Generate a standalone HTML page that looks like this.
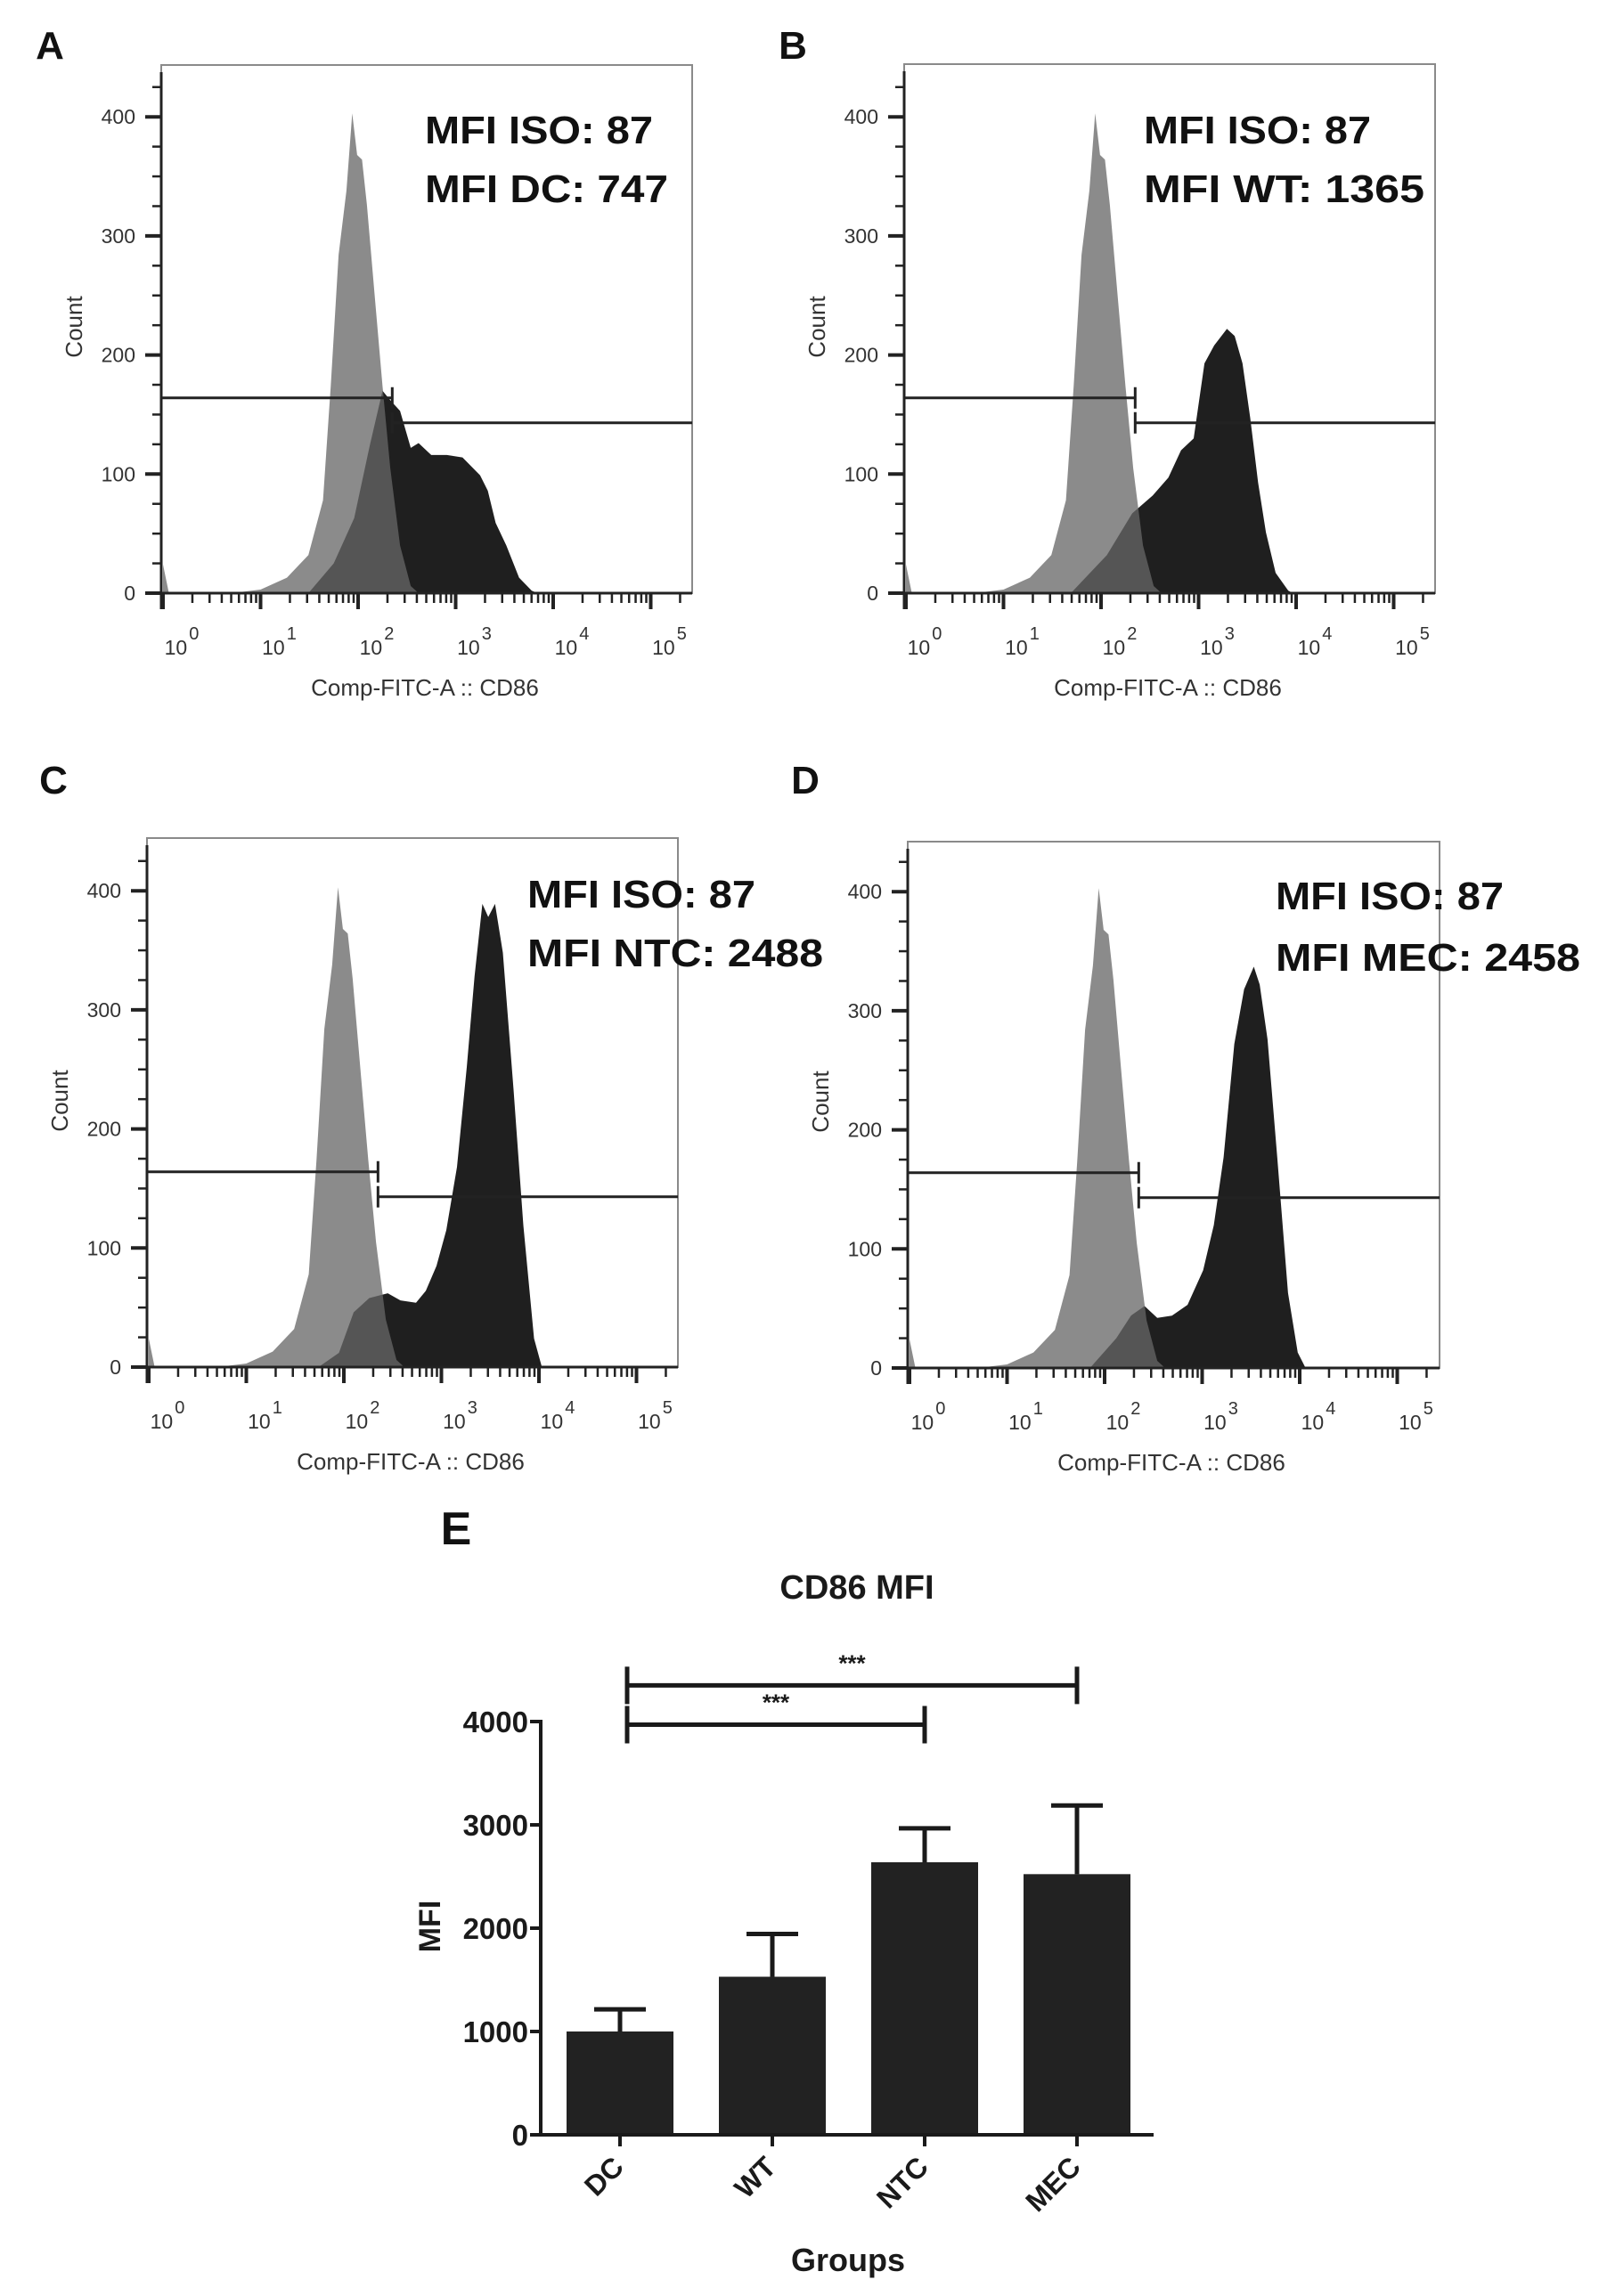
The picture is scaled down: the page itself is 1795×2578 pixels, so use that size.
<!DOCTYPE html>
<html><head><meta charset="utf-8">
<style>
html,body{margin:0;padding:0;background:#fff;}
svg{display:block;}
text{font-family:"Liberation Sans",Arial,sans-serif;}
</style></head>
<body>
<svg id="fig" xmlns="http://www.w3.org/2000/svg" width="1795" height="2578" viewBox="0 0 1795 2578">
<rect x="0" y="0" width="1795" height="2578" fill="#fff"/>
</svg>
<script>
// ---------- Histogram data (x = log10 decade position, y = count) ----------
const isoCurve = [[0,24],[0.06,0],[0.7,0],[1.0,3],[1.27,13],[1.49,32],[1.64,78],[1.72,174],[1.80,284],[1.88,338],[1.94,403],[1.99,368],[2.04,364],[2.09,326],[2.17,250],[2.25,174],[2.33,105],[2.43,40],[2.54,6],[2.62,0]];
const dcCurve = [[1.49,0],[1.75,25],[1.96,63],[2.12,124],[2.25,170],[2.33,162],[2.43,153],[2.54,122],[2.62,126],[2.75,116],[2.91,116],[3.07,114],[3.25,99],[3.33,86],[3.41,59],[3.52,40],[3.65,13],[3.78,2],[3.84,0]];
const wtCurve = [[1.69,0],[2.06,32],[2.32,67],[2.53,82],[2.69,97],[2.82,120],[2.95,130],[3.06,193],[3.16,208],[3.29,222],[3.37,216],[3.45,193],[3.53,147],[3.61,93],[3.69,51],[3.79,17],[3.92,2],[3.97,0]];
const ntcCurve = [[1.74,0],[1.95,12],[2.1,46],[2.26,58],[2.45,62],[2.58,56],[2.74,54],[2.84,64],[2.95,85],[3.05,115],[3.16,168],[3.26,252],[3.34,328],[3.42,389],[3.48,378],[3.55,389],[3.63,348],[3.74,233],[3.84,119],[3.95,24],[4.03,0]];
const mecCurve = [[1.85,0],[2.12,25],[2.27,44],[2.41,52],[2.54,42],[2.69,44],[2.85,53],[3.01,82],[3.12,120],[3.22,177],[3.33,272],[3.43,318],[3.53,337],[3.59,322],[3.67,276],[3.77,177],[3.88,63],[3.98,13],[4.06,0]];
const countTicks = [0,100,200,300,400];
const decadeLabels = ["0","1","2","3","4","5"];
const gateLeftCount = 164;
const gateRightCount = 143;
const mfiIso = ["MFI ISO: 87","MFI ISO: 87","MFI ISO: 87","MFI ISO: 87"];
const mfiSample = ["MFI DC: 747","MFI WT: 1365","MFI NTC: 2488","MFI MEC: 2458"];

// ---------- Bar chart data ----------
const groups = ["DC","WT","NTC","MEC"];
const means = [1000,1530,2638,2523];
const errUpper = [1214,1944,2967,3188];
const mfiTicks = [0,1000,2000,3000,4000];
const sigPairs = [[0,3],[0,2]];
const sigLabels = ["***","***"];
const sigLevels = [4350,3970];

const NS="http://www.w3.org/2000/svg";
const svg=document.getElementById('fig');
function mk(tag,attrs,parent){const e=document.createElementNS(NS,tag);for(const k in attrs)e.setAttribute(k,attrs[k]);(parent||svg).appendChild(e);return e;}

const panels=[
 {id:'a',letter:'A',lx:56,ly:66,bx:181,right:777,top:73,axis:666,curve:dcCurve,tx:477,t1:161,t2:227,w1:256,w2:273},
 {id:'b',letter:'B',lx:890,ly:66,bx:1015,right:1611,top:72,axis:666,curve:wtCurve,tx:1284,t1:161,t2:227,w1:255,w2:315},
 {id:'c',letter:'C',lx:60,ly:891,bx:165,right:761,top:941,axis:1535,curve:ntcCurve,tx:592,t1:1019,t2:1085,w1:256,w2:332},
 {id:'d',letter:'D',lx:904,ly:891,bx:1019,right:1616,top:945,axis:1536,curve:mecCurve,tx:1432,t1:1021,t2:1090,w1:256,w2:342}
];
const DEC=109.5, PER=1.337;

panels.forEach((p,i)=>{
 const g=mk('g',{});
 
 
 const xs=L=>p.bx+2+L*DEC;
 const ys=c=>p.axis-c*PER;
 const lab=mk('text',{x:p.lx,y:p.ly,'font-size':44,'font-weight':'bold','text-anchor':'middle',fill:'#111'},g);
 lab.textContent=p.letter;
 
 
 const box=mk('rect',{x:p.bx,y:p.top,width:p.right-p.bx,height:p.axis-p.top,fill:'none',stroke:'#8a8a8a','stroke-width':2},g);
 
 
 function poly(data,fill,op,name){
  let d='M'+xs(data[0][0])+','+p.axis;
  data.forEach(pt=>{d+=' L'+xs(pt[0]).toFixed(1)+','+ys(pt[1]).toFixed(1);});
  d+=' L'+xs(data[data.length-1][0])+','+p.axis+' Z';
  const e=mk('path',{d:d,fill:fill,'fill-opacity':op,stroke:'none'},g);
  
  
 }
 poly(p.curve,'#1f1f1f',1,'sample-histogram');
 poly(isoCurve,'#666',0.76,'isotype-histogram');
 // axes
 const ya=mk('line',{x1:p.bx,y1:p.top+8,x2:p.bx,y2:p.axis+18,stroke:'#222','stroke-width':3},g);
 
 
 const xa=mk('line',{x1:p.bx-18,y1:p.axis,x2:p.right,y2:p.axis,stroke:'#222','stroke-width':3},g);
 
 
 for(let c=0;c<=440;c+=25){
  const maj=c%100===0;
  mk('line',{x1:p.bx-(maj?18:10),y1:ys(c),x2:p.bx,y2:ys(c),stroke:'#222','stroke-width':maj?4:2.5},g);
 }
 countTicks.forEach(c=>{
  const t=mk('text',{x:p.bx-29,y:ys(c)+8,'font-size':23,'text-anchor':'end',fill:'#333'},g);
  t.textContent=String(c);
  
  
 });
 for(let dcd=0;dcd<=5;dcd++){
  mk('line',{x1:xs(dcd),y1:p.axis,x2:xs(dcd),y2:p.axis+18,stroke:'#222','stroke-width':4},g);
  for(let m=2;m<=9;m++){const L=dcd+Math.log10(m);if(xs(L)<p.right)mk('line',{x1:xs(L),y1:p.axis,x2:xs(L),y2:p.axis+11,stroke:'#222','stroke-width':2.5},g);}
 }
 decadeLabels.forEach((s,k)=>{
  const t=mk('text',{x:xs(k)+21,y:p.axis+69,'font-size':23,'text-anchor':'middle',fill:'#333'},g);
  t.textContent='10';
  const tsp=mk('tspan',{dx:2,dy:-17,'font-size':20},t);tsp.textContent=s;
  
  
 });
 const xt=mk('text',{x:p.bx+296,y:p.axis+115,'font-size':26,'text-anchor':'middle',fill:'#333'},g);
 xt.textContent='Comp-FITC-A :: CD86';
 
 
 const yt=mk('text',{x:0,y:0,'font-size':26,'text-anchor':'middle',fill:'#333',transform:'translate('+(p.bx-89)+','+(p.axis-299)+') rotate(-90)'},g);
 yt.textContent='Count';
 
 
 // gates
 const gx=xs(2.35);
 const gl=mk('path',{d:'M'+p.bx+','+ys(gateLeftCount)+' H'+gx+' M'+p.bx+','+(ys(gateLeftCount)-11)+' V'+(ys(gateLeftCount)+11)+' M'+gx+','+(ys(gateLeftCount)-12)+' V'+(ys(gateLeftCount)+12),stroke:'#222','stroke-width':3,fill:'none'},g);
 
 
 const gr=mk('path',{d:'M'+gx+','+ys(gateRightCount)+' H'+p.right+' M'+gx+','+(ys(gateRightCount)-12)+' V'+(ys(gateRightCount)+12),stroke:'#222','stroke-width':3,fill:'none'},g);
 
 
 const m1=mk('text',{x:p.tx,y:p.t1,'font-size':44,'font-weight':'bold',fill:'#111',textLength:p.w1,lengthAdjust:'spacingAndGlyphs'},g);
 m1.textContent=mfiIso[i];
 
 
 const m2=mk('text',{x:p.tx,y:p.t2,'font-size':44,'font-weight':'bold',fill:'#111',textLength:p.w2,lengthAdjust:'spacingAndGlyphs'},g);
 m2.textContent=mfiSample[i];
 
 
});

// ---------- Bar chart ----------
(function(){
 const g=mk('g',{});
 
 
 const X0=607, Y0=2397, PX=0.116, STEP=171, FIRST=696, BW=120;
 const ys=v=>Y0-v*PX;
 const xc=k=>FIRST+k*STEP;
 const e=mk('text',{x:512,y:1734,'font-size':52,'font-weight':'bold','text-anchor':'middle',fill:'#111'},g);
 e.textContent='E';
 
 
 const t=mk('text',{x:962,y:1795,'font-size':38,'font-weight':'bold','text-anchor':'middle',fill:'#1a1a1a'},g);
 t.textContent='CD86 MFI';
 
 
 means.forEach((v,k)=>{
  const r=mk('rect',{x:xc(k)-BW/2,y:ys(v),width:BW,height:Y0-ys(v),fill:'#222'},g);
  
  
  const eb=mk('path',{d:'M'+xc(k)+','+ys(v)+' V'+ys(errUpper[k])+' M'+(xc(k)-29)+','+ys(errUpper[k])+' H'+(xc(k)+29),stroke:'#1a1a1a','stroke-width':5,fill:'none'},g);
  
  
  mk('line',{x1:xc(k),y1:Y0,x2:xc(k),y2:Y0+13,stroke:'#1a1a1a','stroke-width':4},g);
  const lb=mk('text',{x:0,y:0,'font-size':32,'font-weight':'bold','text-anchor':'end',fill:'#1a1a1a',transform:'translate('+(xc(k)+6)+','+(Y0+38)+') rotate(-45)'},g);
  lb.textContent=groups[k];
  
  
 });
 const ya=mk('line',{x1:X0,y1:ys(4000)-2,x2:X0,y2:Y0+2,stroke:'#1a1a1a','stroke-width':4},g);
 
 
 const xa=mk('line',{x1:X0-12,y1:Y0,x2:1295,y2:Y0,stroke:'#1a1a1a','stroke-width':4},g);
 
 
 mfiTicks.forEach(v=>{
  mk('line',{x1:X0-12,y1:ys(v),x2:X0,y2:ys(v),stroke:'#1a1a1a','stroke-width':4},g);
  const tl=mk('text',{x:593,y:ys(v)+12,'font-size':33,'font-weight':'bold','text-anchor':'end',fill:'#1a1a1a'},g);
  tl.textContent=String(v);
  
  
 });
 const yt=mk('text',{x:0,y:0,'font-size':34,'font-weight':'bold','text-anchor':'middle',fill:'#1a1a1a',transform:'translate(494,2163) rotate(-90)'},g);
 yt.textContent='MFI';
 
 
 const xt=mk('text',{x:952,y:2550,'font-size':36,'font-weight':'bold','text-anchor':'middle',fill:'#1a1a1a'},g);
 xt.textContent='Groups';
 
 
 sigPairs.forEach((pr,k)=>{
  const y=ys(sigLevels[k]);
  const a=xc(pr[0])+8, b=xc(pr[1]);
  const br=mk('path',{d:'M'+a+','+y+' H'+b+' M'+a+','+(y-21)+' V'+(y+21)+' M'+b+','+(y-21)+' V'+(y+21),stroke:'#1a1a1a','stroke-width':5,fill:'none'},g);
  
  
  const st=mk('text',{x:(a+b)/2,y:y-16,'font-size':26,'font-weight':'bold','text-anchor':'middle',fill:'#1a1a1a'},g);
  st.textContent=sigLabels[k];
  
  
 });
})();
</script>
</body></html>
